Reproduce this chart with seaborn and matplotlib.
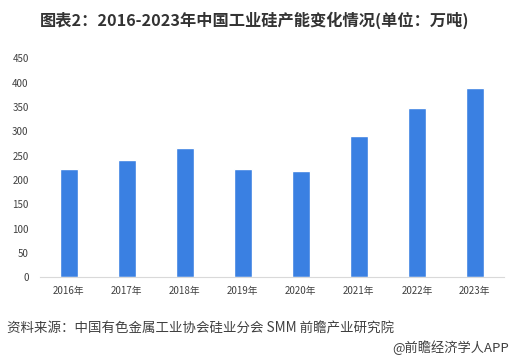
import matplotlib
matplotlib.use("Agg")
import matplotlib.pyplot as plt
import seaborn as sns
import pandas as pd

# data (万吨)
years = ["2016年", "2017年", "2018年", "2019年", "2020年", "2021年", "2022年", "2023年"]
capacity = [222, 240, 266, 223, 218, 290, 348, 389]
y_ticks = [0, 50, 100, 150, 200, 250, 300, 350, 400, 450]

TITLE = "图表2：2016-2023年中国工业硅产能变化情况(单位：万吨)"
SOURCE = "资料来源：中国有色金属工业协会硅业分会 SMM 前瞻产业研究院"
BRAND = "@前瞻经济学人APP"

sns.set_theme(style="white")
plt.rcParams["font.family"] = ["Noto Sans CJK SC", "DejaVu Sans"]

df = pd.DataFrame({"year": years, "capacity": capacity})

fig = plt.figure(figsize=(5.1, 3.59), dpi=100)
ax = fig.add_axes([0.078, 0.2276, 0.91, 0.61])

sns.barplot(data=df, x="year", y="capacity", color="#3A80E2",
            saturation=1, width=0.31, ax=ax)

ax.set_ylim(0, 450)
ax.set_yticks(y_ticks)
ax.set_xlabel("")
ax.set_ylabel("")
ax.tick_params(axis="both", labelsize=7, colors="#404040", length=0)
ax.tick_params(axis="x", pad=6)
ax.tick_params(axis="y", pad=8)
for s in ["top", "right", "left"]:
    ax.spines[s].set_visible(False)
ax.spines["bottom"].set_color("#D9D9D9")
ax.spines["bottom"].set_linewidth(0.8)
ax.set_xlim(-0.5, len(years) - 0.5)

fig.text(0.5, 0.944, TITLE, ha="center", va="center", fontsize=11.7,
         fontweight="bold", color="#333333")
fig.text(0.014, 0.086, SOURCE, ha="left", va="center", fontsize=9.7,
         color="#404040")
fig.text(0.998, 0.031, BRAND, ha="right", va="center", fontsize=9.5,
         color="#404040")

fig.savefig("out.png", dpi=100)
